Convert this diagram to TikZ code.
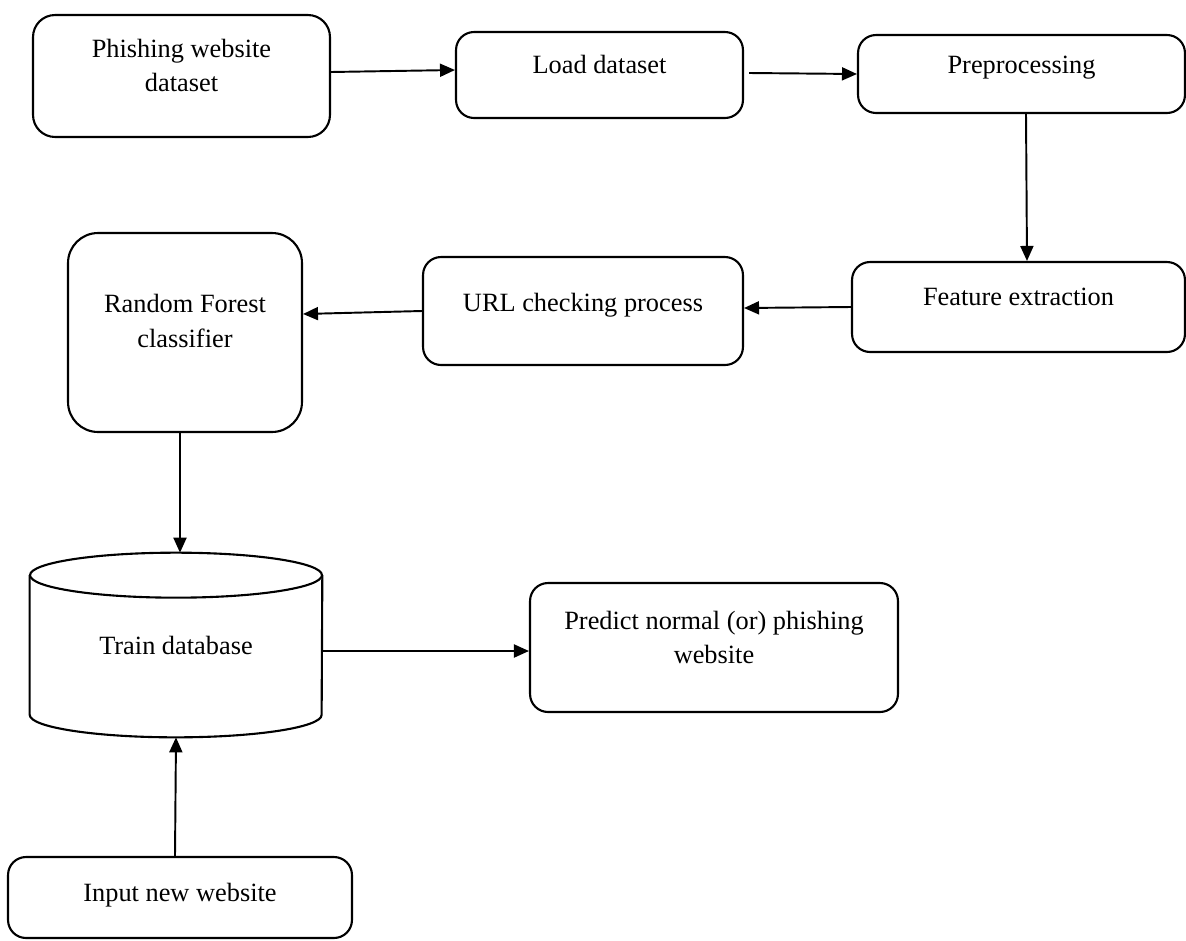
\documentclass[tikz,border=0pt]{standalone}
\usepackage{fontspec}
\setmainfont{Liberation Serif}
\usetikzlibrary{arrows.meta}

\begin{document}
\begin{tikzpicture}[x=0.02cm, y=-0.02cm,
  blok/.style={draw, line width=1.2pt, rounded corners=0.36cm, align=center,
    font=\fontsize{15}{19.8}\selectfont},
  arr/.style={line width=1.1pt, -{Triangle[length=0.3cm, width=0.26cm]}}]
  \useasboundingbox (0,0) rectangle (1186,940);
  % first row
  \node[blok, rounded corners=0.44cm, minimum width=5.94cm, minimum height=2.44cm, text depth=12pt]
    (ds) at (181.5,76) {Phishing website\\dataset};
  \node[blok, minimum width=5.74cm, minimum height=1.72cm, text depth=11.6pt]
    (load) at (599.5,75) {Load dataset};
  \node[blok, minimum width=6.54cm, minimum height=1.56cm, text depth=10.5pt]
    (pre) at (1021.5,74) {Preprocessing};
  % second row
  \node[blok, minimum width=6.66cm, minimum height=1.8cm, text depth=11.6pt]
    (feat) at (1018.5,307) {Feature extraction};
  \node[blok, minimum width=6.4cm, minimum height=2.16cm, text depth=9.3pt]
    (url) at (583,311) {URL checking process};
  \node[blok, rounded corners=0.6cm, minimum width=4.68cm, minimum height=3.98cm, text depth=13.2pt]
    (rf) at (185,332.5) {Random Forest\\classifier};
  % database
  \node[font=\fontsize{15}{19.8}\selectfont, minimum width=5.84cm, minimum height=3.68cm]
    (db) at (176,645) {Train database};
  \draw[line width=1.2pt] ([yshift=-0.45cm]db.north) ellipse [x radius=2.92cm, y radius=0.45cm];
  \draw[line width=1.2pt] ([yshift=-0.45cm]db.north west) -- ([yshift=0.45cm]db.south west)
    arc[start angle=180, end angle=360, x radius=2.92cm, y radius=0.45cm]
    -- ([yshift=-0.45cm]db.north east);
  \node[blok, minimum width=7.36cm, minimum height=2.58cm, text depth=11.6pt]
    (pred) at (714,647.5) {Predict normal (or) phishing\\website};
  \node[blok, minimum width=6.88cm, minimum height=1.62cm, text depth=6pt]
    (inp) at (180,897.5) {Input new website};

  % arrows
  \draw[arr] ([yshift=0.08cm]ds.east) -- ([yshift=0.1cm]load.west);
  \draw[arr] ([xshift=0.1cm,yshift=0.04cm]load.east) -- (pre.west);
  \draw[arr] ([xshift=0.09cm]pre.south) -- ([xshift=0.17cm]feat.north);
  \draw[arr] (feat.west) -- ([yshift=0.06cm]url.east);
  \draw[arr] (url.west) -- ([yshift=0.37cm]rf.east);
  \draw[arr] ([xshift=-0.1cm]rf.south) -- ([xshift=0.08cm]db.north);
  \draw[arr] ([yshift=-0.12cm]db.east) -- ([yshift=-0.07cm]pred.west);
  \draw[arr] ([xshift=-0.1cm]inp.north) -- (db.south);
\end{tikzpicture}
\end{document}
